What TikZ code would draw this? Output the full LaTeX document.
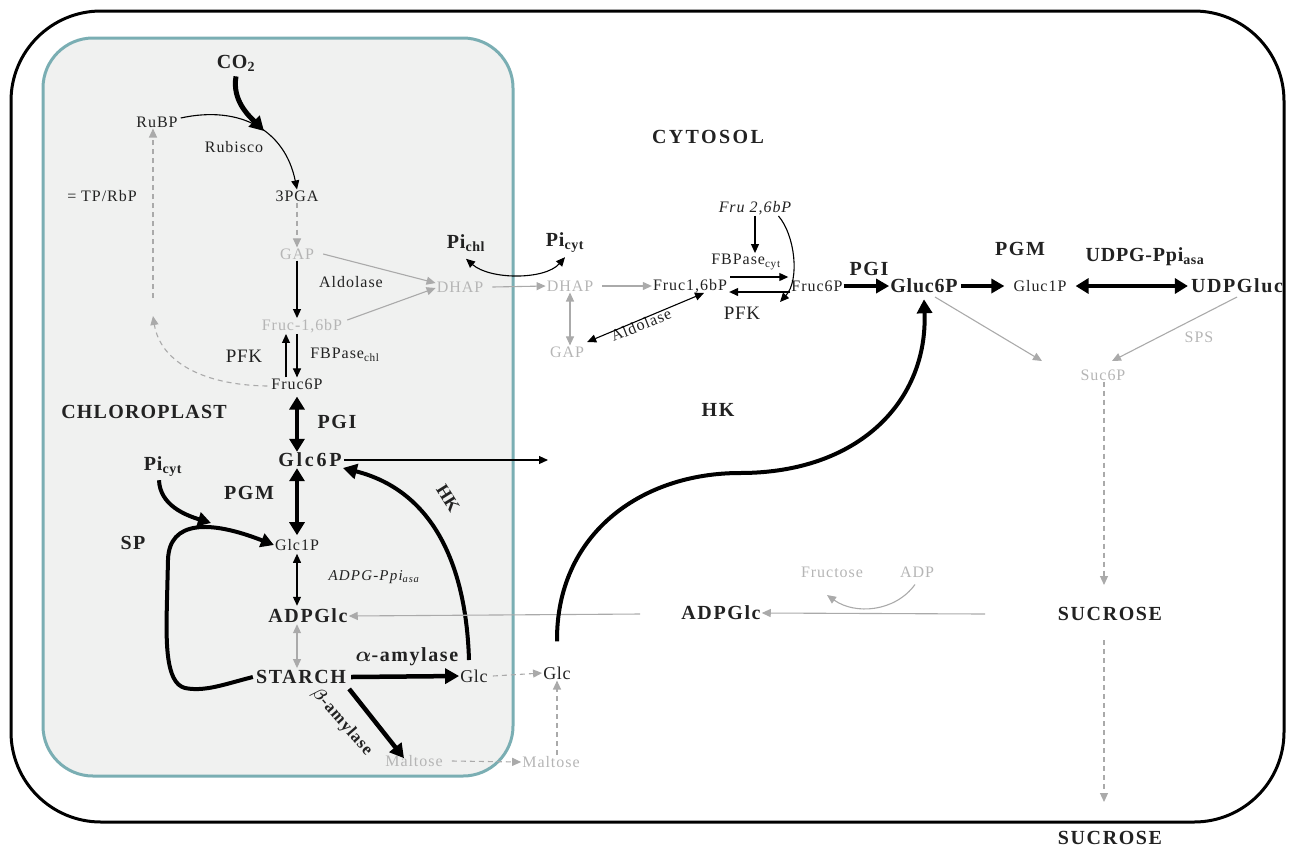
\documentclass[tikz,border=0pt]{standalone}
\usepackage{amsmath}
\usepackage{fontspec}
\setmainfont{Liberation Serif}
\usetikzlibrary{arrows.meta}
\definecolor{teal1}{HTML}{7AAEB3}
\definecolor{chlfill}{HTML}{F0F1F0}
\definecolor{gtxt}{HTML}{B5B5B5}
\definecolor{gline}{HTML}{AAAAAA}
\definecolor{tx}{HTML}{222222}
\tikzset{
  lbl/.style={inner sep=1pt,text=tx,font=\fontsize{16}{16}\selectfont\addfontfeature{LetterSpace=6}},
  ilbl/.style={inner sep=1pt,text=tx,font=\fontsize{16}{16}\selectfont\itshape\addfontfeature{LetterSpace=6}},
  glbl/.style={inner sep=1pt,text=gtxt,font=\fontsize{16}{16}\selectfont\addfontfeature{LetterSpace=6}},
  blbl/.style={inner sep=1pt,text=tx,font=\fontsize{20}{20}\selectfont\bfseries\addfontfeature{LetterSpace=#1}},
  blbl/.default=8,
  thin/.style={line width=1.1pt,-{Triangle[length=9pt,width=8pt]}},
  thinb/.style={line width=1.1pt,{Triangle[length=9pt,width=8pt]}-{Triangle[length=9pt,width=8pt]}},
  gthin/.style={gline,line width=1.1pt,-{Triangle[length=9pt,width=8pt]}},
  gthinb/.style={gline,line width=1.1pt,{Triangle[length=9pt,width=8pt]}-{Triangle[length=9pt,width=8pt]}},
  gdash/.style={gline,line width=1.1pt,dash pattern=on 5pt off 4pt,-{Triangle[length=9pt,width=8pt]}},
  thick1/.style={line width=4.5pt,-{Triangle[length=14pt,width=15pt]}},
  thickb/.style={line width=4.5pt,{Triangle[length=13pt,width=15pt]}-{Triangle[length=13pt,width=15pt]}},
}
\begin{document}
\begin{tikzpicture}[x=1pt,y=-1pt]
\useasboundingbox (0,0) rectangle (1290,847);
% outer cell
\draw[line width=3pt,rounded corners=90pt] (11,11) rectangle (1284,822);
% chloroplast
\draw[teal1,fill=chlfill,line width=3pt,rounded corners=50pt] (43,38) rectangle (513,776);

% ---- chloroplast nodes
\node[blbl=3] (co2) at (236,63) {CO\textsubscript{2}};
\node[lbl] (rubp) at (157,122) {RuBP};
\node[lbl] (rubisco) at (234,147) {Rubisco};
\node[lbl] (pga) at (297,196) {3PGA};
\node[lbl] (tprbp) at (102,196) {= TP/RbP};
\node[glbl] (gap1) at (297,254) {GAP};
\node[lbl] (aldo1) at (351,282) {Aldolase};
\node[glbl] (dhap1) at (460,287) {DHAP};
\node[blbl=4] (pichl) at (466,243) {Pi\textsubscript{chl}};
\node[glbl] (fbp1) at (302,326) {Fruc-1,6bP};
\node[lbl,font=\fontsize{19}{19}\selectfont\addfontfeature{LetterSpace=4}] (pfk1) at (244,356) {PFK};
\node[lbl] (fbpase1) at (345,355) {FBPase\textsubscript{chl}};
\node[lbl] (f6p1) at (297,384) {Fruc6P};
\node[blbl=6] (chlor) at (144,412) {CHLOROPLAST};
\node[blbl] (pgi1) at (337,422) {PGI};
\node[blbl=14] (g6p1) at (310,460) {Glc6P};
\node[blbl=4] (picyt2) at (163,467) {Pi\textsubscript{cyt}};
\node[blbl] (pgm1) at (249,493) {PGM};
\node[blbl] (sp) at (133,543) {SP};
\node[lbl] (g1p1) at (297,545) {Glc1P};
\node[ilbl,font=\fontsize{15}{15}\selectfont\itshape\addfontfeature{LetterSpace=8}] (adpgppi) at (374,577) {ADPG-Ppi\textsubscript{asa}};
\node[blbl] (adpglc1) at (308,616) {ADPGlc};
\node[blbl] (starch) at (301,677) {STARCH};
\node[blbl] (aamyl) at (407,657) {$\boldsymbol{\alpha}$-amylase};
\node[blbl,font=\fontsize{17}{17}\selectfont\bfseries\addfontfeature{LetterSpace=6},rotate=-49] (bamyl) at (342,722) {$\boldsymbol{\beta}$-amylase};
\node[lbl,font=\fontsize{18}{18}\selectfont\addfontfeature{LetterSpace=4}] (glc1) at (474,676) {Glc};
\node[glbl] (malt1) at (414,761) {Maltose};
\node[blbl,font=\fontsize{18}{18}\selectfont\bfseries,rotate=-58] (hk1) at (448,498) {HK};

% ---- cytosol nodes
\node[blbl=12] (cytosol) at (708,137) {CYTOSOL};
\node[blbl=4] (picyt) at (565,243) {Pi\textsubscript{cyt}};
\node[glbl] (dhap2) at (570,286) {DHAP};
\node[glbl] (gap2) at (567,352) {GAP};
\node[lbl,rotate=22] (aldo2) at (641,325) {Aldolase};
\node[lbl] (fbp2) at (690,286) {Fruc1,6bP};
\node[ilbl] (fru26) at (755,208) {Fru 2,6bP};
\node[lbl] (fbpase2) at (746,262) {FBPase\textsubscript{cyt}};
\node[lbl] (f6p2) at (817,286) {Fruc6P};
\node[lbl,font=\fontsize{19}{19}\selectfont\addfontfeature{LetterSpace=4}] (pfk2) at (742,313) {PFK};
\node[blbl] (pgi2) at (869,269) {PGI};
\node[blbl=4] (g6p2) at (924,286) {Gluc6P};
\node[blbl] (pgm2) at (1020,249) {PGM};
\node[lbl] (g1p2) at (1040,286) {Gluc1P};
\node[blbl=4] (udpgppi) at (1145,257) {UDPG-Ppi\textsubscript{asa}};
\node[blbl=8] (udpg) at (1237,286) {UDPGluc};
\node[glbl] (sps) at (1199,337) {SPS};
\node[glbl] (suc6p) at (1103,375) {Suc6P};
\node[blbl] (hk2) at (718,410) {HK};
\node[lbl,font=\fontsize{18}{18}\selectfont\addfontfeature{LetterSpace=4}] (glc2) at (557,673) {Glc};
\node[glbl] (malt2) at (551,762) {Maltose};
\node[blbl] (adpglc2) at (721,613) {ADPGlc};
\node[glbl] (fruct) at (832,572) {Fructose};
\node[glbl] (adp) at (917,572) {ADP};
\node[blbl] (suc1) at (1110,614) {SUCROSE};
\node[blbl] (suc2) at (1110,838) {SUCROSE};

\coordinate (cytend) at (548,460);
\coordinate (adplineS) at (985,614);
\coordinate (adplineE) at (640,614);

% ---- chloroplast connectors
\draw[line width=5pt,-{Triangle[length=14pt,width=15pt]}] (co2.south) ++(0,4) .. controls (232,100) and (248,115) .. (264,131);
\draw[thin] (rubp.east) ++(2,-4) .. controls (240,105) and (285,130) .. (pga.north);
\draw[gdash] (pga.south) -- (pga.south |- gap1.north);
\draw[thin] (gap1.south) -- (gap1.south |- fbp1.north);
\draw[gthin] (gap1.east) ++(8,0) -- ([yshift=4pt]dhap1.west);
\draw[gthin] (fbp1.east) ++(4,-6) -- ([yshift=-1pt]dhap1.west);
\draw[thin] ([xshift=-11pt]f6p1.north) -- ([xshift=-11pt]f6p1.north |- fbp1.south);
\draw[thin] (f6p1.north |- fbp1.south) -- (f6p1.north);
\draw[gline,line width=1.1pt,dash pattern=on 5pt off 4pt,-{Triangle[length=9pt,width=8pt]}] (f6p1.west) ++(-3,2) .. controls (200,385) and (160,360) .. (153,316);
\draw[gdash] (153,298) -- (rubp.south -| 153,0);
\draw[thickb] ([yshift=-6pt]f6p1.south) -- (f6p1.south |- g6p1.north);
\draw[thickb] (g1p1.north |- g6p1.south) -- ([yshift=3pt]g1p1.north);
\draw[thinb] ([yshift=-2pt]g1p1.south) -- ([yshift=2pt]g1p1.south |- adpglc1.north);
\draw[gthinb] (g1p1.south |- adpglc1.south) -- ([yshift=1pt]g1p1.south |- starch.north);
\draw[line width=1.1pt,-{Triangle[length=9pt,width=8pt]}] (g6p1.east) ++(1,0) -- (cytend);
% SP loop
\draw[line width=4pt,-{Triangle[length=13pt,width=14pt]}] (starch.west) ++(-2,0) .. controls (225,684) and (205,692) .. (185,688) .. controls (165,683) and (166,640) .. (167,600) -- (168,560) .. controls (169,520) and (210,520) .. (g1p1.west);
\draw[line width=4pt,-{Triangle[length=13pt,width=14pt]}] (picyt2.south) ++(-4,2) .. controls (160,505) and (185,515) .. (211,523);
% amylases
\draw[line width=4.5pt,-{Triangle[length=14pt,width=15pt]}] (starch.east) ++(4,0) -- (glc1.west);
\draw[line width=4.5pt,-{Triangle[length=14pt,width=15pt]}] (starch.south east) ++(2,4) -- ([xshift=-10pt,yshift=-4pt]malt1.north);
% HK in chloroplast
\draw[line width=4pt,-{Triangle[length=14pt,width=15pt]}] (469,660) .. controls (466,560) and (430,490) .. ([yshift=-8pt]g6p1.east);
% Glc, maltose transfers
\draw[gdash] (glc1.east) ++(4,0) -- (glc2.west);
\draw[gdash] (malt1.east) ++(8,0) -- (malt2.west);
\draw[gdash] (malt2.north) ++(6,0) -- ([xshift=0pt]glc2.south);
% ADPGlc import
\draw[gthin] (adplineE) -- (adpglc1.east);
% Pi exchange
\draw[thinb] (pichl.south) ++(0,6) .. controls (490,280) and (545,280) .. ([yshift=-3pt]picyt.south);
\draw[gthin] (dhap1.east) ++(8,0) -- (dhap2.west);

% ---- cytosol connectors
\draw[gthin] (dhap2.east) ++(8,0) -- (fbp2.west);
\draw[gthinb] (dhap2.south) -- (dhap2.south |- gap2.north);
\draw[thinb] (gap2.east) ++(2,-10) -- ([xshift=14pt,yshift=1pt]fbp2.south);
\draw[thin] (fru26.south) -- (fru26.south |- fbpase2.north);
\draw[line width=1.1pt,-{Triangle[length=9pt,width=8pt]}] (fru26.east) ++(-14,8) .. controls (795,235) and (800,280) .. (780,302);
\draw[thin] ([xshift=2pt]fbp2.east |- 0,277) -- ([xshift=-2pt]f6p2.west |- 0,277);
\draw[thin] ([yshift=-6pt]f6p2.west) -- ([xshift=1pt,yshift=-6pt]fbp2.east);
\draw[line width=4pt,-{Triangle[length=13pt,width=14pt]}] (f6p2.east) -- (g6p2.west);
\draw[line width=4pt,-{Triangle[length=13pt,width=14pt]}] (g6p2.east) ++(2,0) -- ([xshift=-8pt]g1p2.west);
\draw[thickb] ([xshift=8pt]g1p2.east) -- ([xshift=-2pt]udpg.west);
\draw[gthin] (935,297) -- (1042,361);
\draw[gthin] (1237,297) -- (1112,361);
\draw[gdash] (suc6p.south) ++(1,0) -- (1104,585);
\draw[gdash] (1104,640) -- (1104,802);
\draw[gthin] (adplineS) -- (adpglc2.east);
\draw[gline,line width=1.1pt,-{Triangle[length=9pt,width=8pt]}] (adp.south) ++(-2,6) .. controls (895,612) and (855,615) .. (827,595);
% big HK S-curve
\draw[line width=4pt,-{Triangle[length=14pt,width=15pt]}] (glc2.north) ++(0,-24) .. controls (556,535) and (640,473) .. (740,473) .. controls (860,473) and (928,400) .. ([yshift=-5pt]g6p2.south);
\end{tikzpicture}
\end{document}
